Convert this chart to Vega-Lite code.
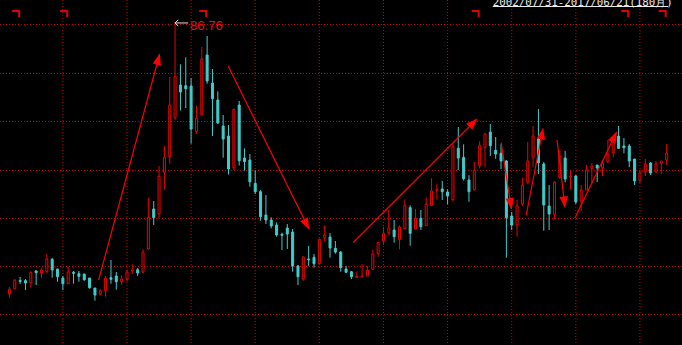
{
"$schema":"https://vega.github.io/schema/vega-lite/v6.json",
"width":682,"height":345,"padding":0,"autosize":{"type":"none"},
"background":"#000000",
"config":{"view":{"stroke":null}},
"datasets":{
"grid_h":[{"p":86.125},{"p":73.875},{"p":61.875},{"p":49.625},{"p":37.625},{"p":25.625},{"p":13.625}],
"grid_v":[{"i":11},{"i":23},{"i":35},{"i":47},{"i":59},{"i":71},{"i":83},{"i":95},{"i":107},{"i":119}],
"candles":[
{"i":1,"d":"up","o":18.75,"h":20.5,"l":17.82,"c":19.92},
{"i":2,"d":"up","o":20.07,"h":22.42,"l":20.07,"c":22.25},
{"i":3,"d":"down","o":22.13,"h":23.0,"l":21.25,"c":21.88},
{"i":4,"d":"down","o":22.08,"h":22.5,"l":19.75,"c":21.5},
{"i":5,"d":"up","o":21.5,"h":24.5,"l":20.42,"c":24.08},
{"i":6,"d":"down","o":24.5,"h":24.67,"l":21.0,"c":24.08},
{"i":7,"d":"up","o":24.0,"h":25.32,"l":22.75,"c":24.75},
{"i":8,"d":"up","o":24.32,"h":28.75,"l":24.07,"c":27.5},
{"i":9,"d":"down","o":27.42,"h":27.75,"l":22.82,"c":24.75},
{"i":10,"d":"down","o":25.0,"h":25.0,"l":21.82,"c":23.07},
{"i":11,"d":"down","o":22.75,"h":23.25,"l":19.75,"c":21.32},
{"i":12,"d":"up","o":21.32,"h":25.57,"l":21.32,"c":24.25},
{"i":13,"d":"down","o":24.17,"h":24.5,"l":21.32,"c":23.92},
{"i":14,"d":"down","o":23.82,"h":24.5,"l":21.82,"c":23.17},
{"i":15,"d":"down","o":23.75,"h":23.75,"l":22.07,"c":22.32},
{"i":16,"d":"down","o":22.75,"h":22.75,"l":20.07,"c":20.32},
{"i":17,"d":"down","o":20.25,"h":20.25,"l":17.07,"c":18.5},
{"i":18,"d":"up","o":18.75,"h":19.92,"l":18.5,"c":19.57},
{"i":19,"d":"up","o":19.57,"h":23.25,"l":18.07,"c":22.75},
{"i":20,"d":"down","o":22.82,"h":27.25,"l":21.32,"c":22.42},
{"i":21,"d":"down","o":23.25,"h":24.25,"l":19.82,"c":21.82},
{"i":22,"d":"up","o":21.82,"h":23.42,"l":21.07,"c":22.5},
{"i":23,"d":"up","o":22.5,"h":24.75,"l":21.82,"c":24.25},
{"i":24,"d":"up","o":24.5,"h":26.17,"l":23.75,"c":24.75},
{"i":25,"d":"down","o":24.82,"h":25.25,"l":23.25,"c":24.0},
{"i":26,"d":"up","o":24.25,"h":29.92,"l":23.92,"c":29.17},
{"i":27,"d":"up","o":30.0,"h":42.75,"l":29.75,"c":37.92},
{"i":28,"d":"down","o":40.0,"h":42.0,"l":36.0,"c":37.82},
{"i":29,"d":"up","o":38.75,"h":50.75,"l":37.57,"c":48.17},
{"i":30,"d":"up","o":49.17,"h":55.75,"l":44.75,"c":52.92},
{"i":31,"d":"up","o":53.07,"h":73.0,"l":51.32,"c":66.0},
{"i":32,"d":"up","o":62.82,"h":86.76,"l":62.25,"c":73.17},
{"i":33,"d":"down","o":71.0,"h":76.17,"l":64.62,"c":69.25},
{"i":34,"d":"down","o":70.82,"h":77.92,"l":65.25,"c":70.07},
{"i":35,"d":"down","o":70.75,"h":72.75,"l":56.32,"c":60.0},
{"i":36,"d":"up","o":59.32,"h":65.82,"l":58.75,"c":62.67},
{"i":37,"d":"up","o":63.57,"h":80.5,"l":63.32,"c":77.5},
{"i":38,"d":"down","o":78.5,"h":83.25,"l":71.32,"c":72.0},
{"i":39,"d":"down","o":71.5,"h":75.0,"l":58.25,"c":67.57},
{"i":40,"d":"down","o":67.25,"h":69.42,"l":61.25,"c":61.5},
{"i":41,"d":"down","o":60.75,"h":63.5,"l":52.82,"c":57.5},
{"i":42,"d":"down","o":58.25,"h":61.0,"l":48.62,"c":50.0},
{"i":43,"d":"up","o":50.32,"h":65.0,"l":49.75,"c":64.92},
{"i":44,"d":"down","o":66.0,"h":67.0,"l":50.87,"c":52.07},
{"i":45,"d":"down","o":52.75,"h":55.17,"l":49.57,"c":51.82},
{"i":46,"d":"down","o":52.25,"h":53.75,"l":45.57,"c":46.82},
{"i":47,"d":"down","o":46.42,"h":49.67,"l":43.75,"c":44.32},
{"i":48,"d":"down","o":44.32,"h":44.75,"l":37.07,"c":38.07},
{"i":49,"d":"down","o":38.5,"h":43.5,"l":36.25,"c":37.25},
{"i":50,"d":"down","o":37.25,"h":37.92,"l":35.17,"c":35.75},
{"i":51,"d":"down","o":36.0,"h":36.67,"l":33.07,"c":33.5},
{"i":52,"d":"down","o":33.67,"h":34.07,"l":29.75,"c":33.42},
{"i":53,"d":"down","o":35.25,"h":36.25,"l":30.0,"c":33.75},
{"i":54,"d":"down","o":34.25,"h":35.0,"l":24.32,"c":25.75},
{"i":55,"d":"down","o":25.75,"h":26.0,"l":21.0,"c":23.07},
{"i":56,"d":"up","o":22.5,"h":28.25,"l":22.07,"c":28.0},
{"i":57,"d":"down","o":27.5,"h":30.75,"l":25.75,"c":27.25},
{"i":58,"d":"down","o":27.92,"h":28.75,"l":25.32,"c":26.32},
{"i":59,"d":"up","o":26.37,"h":32.57,"l":26.25,"c":32.42},
{"i":60,"d":"up","o":32.82,"h":35.95,"l":31.82,"c":33.5},
{"i":61,"d":"down","o":33.0,"h":34.0,"l":27.87,"c":30.25},
{"i":62,"d":"down","o":30.17,"h":32.0,"l":28.82,"c":29.25},
{"i":63,"d":"down","o":29.25,"h":29.45,"l":24.3,"c":25.32},
{"i":64,"d":"down","o":25.0,"h":25.75,"l":24.17,"c":24.17},
{"i":65,"d":"down","o":24.32,"h":24.5,"l":22.5,"c":23.07},
{"i":66,"d":"up","o":22.92,"h":24.32,"l":22.92,"c":23.25},
{"i":67,"d":"up","o":23.0,"h":26.25,"l":23.0,"c":23.25},
{"i":68,"d":"up","o":23.25,"h":25.75,"l":23.25,"c":24.75},
{"i":69,"d":"up","o":24.92,"h":29.75,"l":24.75,"c":28.75},
{"i":70,"d":"up","o":28.92,"h":31.67,"l":28.07,"c":31.67},
{"i":71,"d":"up","o":32.07,"h":35.5,"l":31.0,"c":33.92},
{"i":72,"d":"up","o":34.07,"h":39.75,"l":33.5,"c":35.25},
{"i":73,"d":"down","o":34.75,"h":37.25,"l":31.57,"c":33.07},
{"i":74,"d":"up","o":32.42,"h":35.92,"l":29.92,"c":35.5},
{"i":75,"d":"up","o":35.07,"h":42.42,"l":35.07,"c":40.92},
{"i":76,"d":"down","o":40.32,"h":40.92,"l":30.82,"c":33.92},
{"i":77,"d":"up","o":35.0,"h":40.0,"l":35.0,"c":37.67},
{"i":78,"d":"down","o":37.67,"h":39.75,"l":34.75,"c":35.57},
{"i":79,"d":"up","o":35.82,"h":42.92,"l":35.82,"c":41.17},
{"i":80,"d":"up","o":40.92,"h":47.67,"l":40.92,"c":44.5},
{"i":81,"d":"up","o":44.67,"h":46.32,"l":42.5,"c":45.0},
{"i":82,"d":"down","o":45.0,"h":47.0,"l":42.25,"c":44.32},
{"i":83,"d":"down","o":44.25,"h":44.92,"l":41.17,"c":43.25},
{"i":84,"d":"up","o":42.25,"h":56.42,"l":42.07,"c":55.57},
{"i":85,"d":"down","o":55.17,"h":60.5,"l":49.75,"c":52.75},
{"i":86,"d":"down","o":52.92,"h":56.17,"l":47.12,"c":47.57},
{"i":87,"d":"down","o":47.25,"h":48.45,"l":41.82,"c":44.32},
{"i":88,"d":"up","o":44.87,"h":51.75,"l":44.57,"c":49.57},
{"i":89,"d":"up","o":50.82,"h":56.92,"l":50.17,"c":55.92},
{"i":90,"d":"up","o":55.42,"h":59.0,"l":50.42,"c":58.75},
{"i":91,"d":"down","o":59.25,"h":61.25,"l":53.25,"c":55.82},
{"i":92,"d":"down","o":54.67,"h":58.0,"l":52.57,"c":53.75},
{"i":93,"d":"down","o":53.92,"h":56.17,"l":50.0,"c":52.0},
{"i":94,"d":"down","o":52.0,"h":52.25,"l":27.82,"c":37.82},
{"i":95,"d":"down","o":38.25,"h":39.25,"l":34.75,"c":36.0},
{"i":96,"d":"up","o":36.0,"h":42.25,"l":33.07,"c":40.75},
{"i":97,"d":"up","o":41.25,"h":47.75,"l":40.75,"c":46.0},
{"i":98,"d":"up","o":46.67,"h":56.75,"l":46.17,"c":52.0},
{"i":99,"d":"up","o":52.92,"h":60.75,"l":50.57,"c":58.25},
{"i":100,"d":"down","o":57.5,"h":65.0,"l":48.75,"c":51.57},
{"i":101,"d":"down","o":51.25,"h":51.75,"l":34.57,"c":41.0},
{"i":102,"d":"down","o":40.75,"h":46.0,"l":34.75,"c":38.75},
{"i":103,"d":"up","o":38.67,"h":47.0,"l":37.42,"c":46.75},
{"i":104,"d":"up","o":47.92,"h":54.75,"l":47.5,"c":53.25},
{"i":105,"d":"down","o":52.75,"h":54.5,"l":46.67,"c":47.5},
{"i":106,"d":"up","o":48.0,"h":49.5,"l":44.92,"c":48.25},
{"i":107,"d":"down","o":48.25,"h":48.5,"l":41.25,"c":41.75},
{"i":108,"d":"up","o":42.0,"h":46.0,"l":39.5,"c":44.75},
{"i":109,"d":"up","o":44.75,"h":51.0,"l":44.75,"c":49.75},
{"i":110,"d":"up","o":50.17,"h":51.5,"l":46.5,"c":50.75},
{"i":111,"d":"down","o":51.0,"h":51.0,"l":46.75,"c":50.25},
{"i":112,"d":"up","o":50.32,"h":52.25,"l":48.25,"c":51.42},
{"i":113,"d":"up","o":51.75,"h":57.25,"l":51.5,"c":53.75},
{"i":114,"d":"up","o":54.0,"h":57.75,"l":52.92,"c":57.25},
{"i":115,"d":"down","o":58.25,"h":60.75,"l":55.0,"c":55.17},
{"i":116,"d":"down","o":55.75,"h":57.75,"l":53.92,"c":55.32},
{"i":117,"d":"down","o":55.75,"h":56.25,"l":50.5,"c":52.0},
{"i":118,"d":"down","o":52.5,"h":52.5,"l":46.0,"c":47.0},
{"i":119,"d":"up","o":47.25,"h":49.75,"l":46.5,"c":49.0},
{"i":120,"d":"up","o":49.25,"h":52.5,"l":48.25,"c":51.25},
{"i":121,"d":"down","o":51.5,"h":51.75,"l":48.5,"c":49.0},
{"i":122,"d":"up","o":49.25,"h":52.0,"l":49.0,"c":51.25},
{"i":123,"d":"up","o":51.42,"h":52.0,"l":48.75,"c":52.0},
{"i":124,"d":"up","o":52.25,"h":56.25,"l":51.0,"c":54.0}
],
"arrows":[
{"i1":17.69,"p1":22.25,"i2":29.12,"p2":78.75},
{"i1":41.94,"p1":75.75,"i2":57.06,"p2":35.0},
{"i1":65.36,"p1":31.625,"i2":88.5,"p2":62.5},
{"i1":93.02,"p1":56.625,"i2":94.95,"p2":40.0},
{"i1":97.72,"p1":38.5,"i2":100.86,"p2":60.125},
{"i1":103.49,"p1":57.25,"i2":104.97,"p2":40.42},
{"i1":106.81,"p1":37.67,"i2":114.63,"p2":59.25}
],
"heads":[
{"i":28.95,"p":77.9,"deg":15.3},
{"i":56.77,"p":35.78,"deg":153.3},
{"i":88.04,"p":61.89,"deg":45.5},
{"i":94.85,"p":40.87,"deg":171},
{"i":100.73,"p":59.27,"deg":11.1},
{"i":104.89,"p":41.29,"deg":173.2},
{"i":114.35,"p":58.46,"deg":26.2}
],
"marks":[{"i":3,"p":88.625},{"i":12,"p":88.625},{"i":38,"p":88.625},{"i":89,"p":88.625},{"i":117,"p":88.625},{"i":124,"p":88.625}],
"hi":[{"i":32,"p":86.76,"label":"86.76"}],
"range":[{"i":91.45,"p":90.825,"label":"2002/07/31-2017/06/21(180月)"}],
"uline":[{"i":91.45,"i2":124.27,"p":90.625}]
},
"layer":[
{"data":{"name":"grid_h"},"mark":{"type":"rule","color":"#cc0000","strokeWidth":1,"strokeDash":[1,2]},
 "encoding":{"y":{"field":"p","type":"quantitative","scale":{"domain":[6,92.25],"nice":false,"zero":false},"axis":null}}},
{"data":{"name":"grid_v"},"mark":{"type":"rule","color":"#d00000","strokeWidth":1,"strokeDash":[1,2]},
 "encoding":{"x":{"field":"i","type":"quantitative","scale":{"domain":[0.17,125.934],"nice":false,"zero":false},"axis":null}}},
{"data":{"name":"candles"},"mark":{"type":"rule","strokeWidth":1},
 "encoding":{
  "x":{"field":"i","type":"quantitative","scale":{"domain":[0.17,125.934],"nice":false,"zero":false},"axis":null},
  "y":{"field":"l","type":"quantitative","scale":{"domain":[6,92.25],"nice":false,"zero":false},"axis":null},
  "y2":{"field":"h"},
  "stroke":{"field":"d","type":"nominal","scale":{"domain":["up","down"],"range":["#ee0000","#40cccc"]},"legend":null}}},
{"data":{"name":"candles"},"mark":{"type":"bar","size":2,"strokeWidth":1},
 "encoding":{
  "x":{"field":"i","type":"quantitative","scale":{"domain":[0.17,125.934],"nice":false,"zero":false},"axis":null},
  "y":{"field":"o","type":"quantitative","scale":{"domain":[6,92.25],"nice":false,"zero":false},"axis":null},
  "y2":{"field":"c"},
  "fill":{"field":"d","type":"nominal","scale":{"domain":["up","down"],"range":["#000000","#40cccc"]},"legend":null},
  "stroke":{"field":"d","type":"nominal","scale":{"domain":["up","down"],"range":["#ee0000","#40cccc"]},"legend":null}}},
{"data":{"name":"arrows"},"mark":{"type":"rule","color":"#ff0000","strokeWidth":1.2},
 "encoding":{
  "x":{"field":"i1","type":"quantitative","scale":{"domain":[0.17,125.934],"nice":false,"zero":false},"axis":null},
  "y":{"field":"p1","type":"quantitative","scale":{"domain":[6,92.25],"nice":false,"zero":false},"axis":null},
  "x2":{"field":"i2"},"y2":{"field":"p2"}}},
{"data":{"name":"heads"},"mark":{"type":"point","shape":"M0,-0.7L0.75,1.3L-0.75,1.3Z","filled":true,"color":"#ff0000","opacity":1,"size":130,"strokeWidth":0},
 "encoding":{
  "x":{"field":"i","type":"quantitative","scale":{"domain":[0.17,125.934],"nice":false,"zero":false},"axis":null},
  "y":{"field":"p","type":"quantitative","scale":{"domain":[6,92.25],"nice":false,"zero":false},"axis":null},
  "angle":{"field":"deg","type":"quantitative","scale":null}}},
{"data":{"name":"marks"},"mark":{"type":"point","shape":"M-2,-1H0V0.7","filled":false,"color":"#e00000","opacity":1,"size":49,"strokeWidth":2,"xOffset":-1},
 "encoding":{
  "x":{"field":"i","type":"quantitative","scale":{"domain":[0.17,125.934],"nice":false,"zero":false},"axis":null},
  "y":{"field":"p","type":"quantitative","scale":{"domain":[6,92.25],"nice":false,"zero":false},"axis":null}}},
{"data":{"name":"hi"},"mark":{"type":"point","shape":"M0,0H2M0.5,-0.5L0,0L0.5,0.5","filled":false,"color":"#e0e0e0","opacity":1,"size":169,"strokeWidth":1,"yOffset":1},
 "encoding":{
  "x":{"field":"i","type":"quantitative","scale":{"domain":[0.17,125.934],"nice":false,"zero":false},"axis":null},
  "y":{"field":"p","type":"quantitative","scale":{"domain":[6,92.25],"nice":false,"zero":false},"axis":null}}},
{"data":{"name":"hi"},"mark":{"type":"text","color":"#e81010","font":"Liberation Sans","fontSize":13,"align":"left","baseline":"alphabetic","dx":15,"dy":8},
 "encoding":{
  "x":{"field":"i","type":"quantitative","scale":{"domain":[0.17,125.934],"nice":false,"zero":false},"axis":null},
  "y":{"field":"p","type":"quantitative","scale":{"domain":[6,92.25],"nice":false,"zero":false},"axis":null},
  "text":{"field":"label"}}},
{"data":{"name":"range"},"mark":{"type":"text","color":"#e8e8e8","font":"DejaVu Sans Mono","fontSize":10.8,"align":"left","baseline":"alphabetic"},
 "encoding":{
  "x":{"field":"i","type":"quantitative","scale":{"domain":[0.17,125.934],"nice":false,"zero":false},"axis":null},
  "y":{"field":"p","type":"quantitative","scale":{"domain":[6,92.25],"nice":false,"zero":false},"axis":null},
  "text":{"field":"label"}}},
{"data":{"name":"uline"},"mark":{"type":"rule","color":"#e8e8e8","strokeWidth":1},
 "encoding":{
  "x":{"field":"i","type":"quantitative","scale":{"domain":[0.17,125.934],"nice":false,"zero":false},"axis":null},
  "x2":{"field":"i2"},
  "y":{"field":"p","type":"quantitative","scale":{"domain":[6,92.25],"nice":false,"zero":false},"axis":null}}}
]
}
